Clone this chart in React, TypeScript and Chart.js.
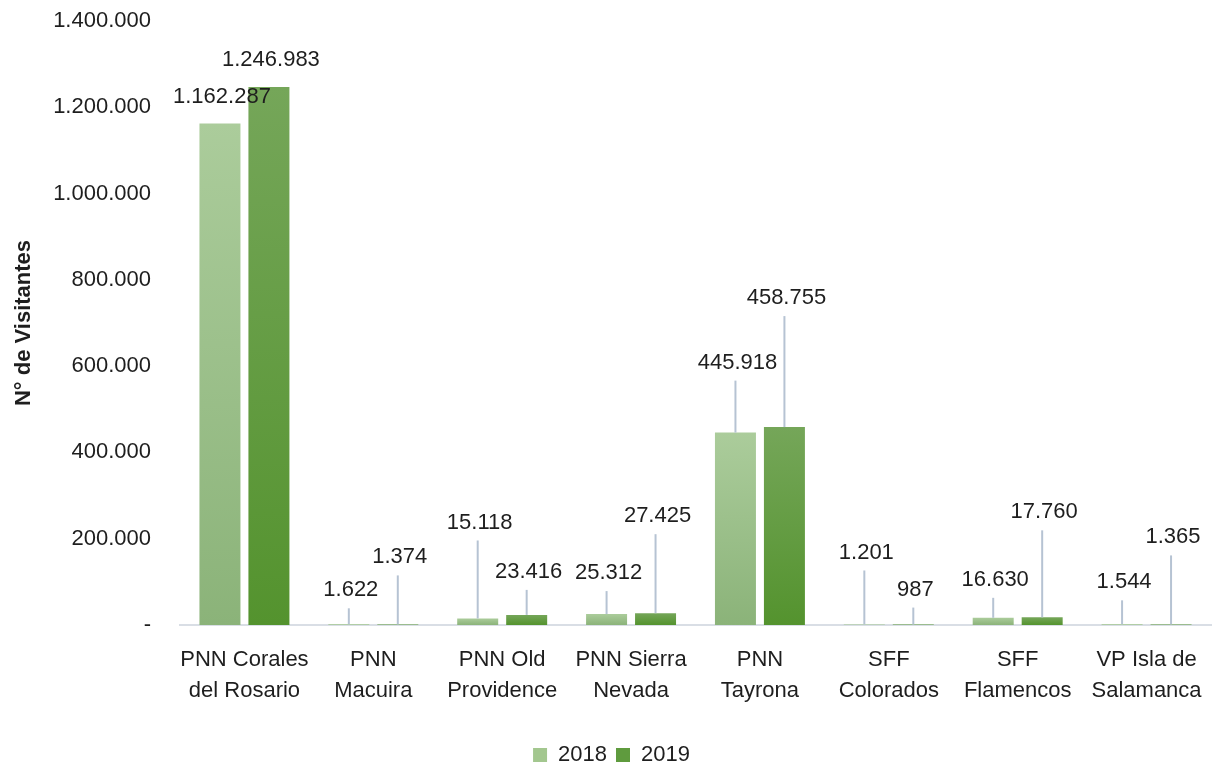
import React, { useEffect, useRef } from "react";
import { Chart, registerables } from "chart.js";

Chart.register(...registerables);

const categories: string[][] = [
  ["PNN Corales", "del Rosario"],
  ["PNN", "Macuira"],
  ["PNN Old", "Providence"],
  ["PNN Sierra", "Nevada"],
  ["PNN", "Tayrona"],
  ["SFF", "Colorados"],
  ["SFF", "Flamencos"],
  ["VP Isla de", "Salamanca"],
];

const seriesNames = ["2018", "2019"];
const values2018 = [1162287, 1622, 15118, 25312, 445918, 1201, 16630, 1544];
const values2019 = [1246983, 1374, 23416, 27425, 458755, 987, 17760, 1365];

// label placement (pixels above bar top for the label centre), as in the reference
const labelLift2018 = [27, 34, 96, 41, 70, 72, 38, 42];
const labelLift2019 = [27, 67, 43, 97, 129, 35, 105, 87];

const yMin = 0;
const yMax = 1400000;
const yStep = 200000;

const FONT = "'Liberation Sans', Arial, sans-serif";
const TEXT = "#1e1e1e";

function fmt(v: number): string {
  if (v === 0) return "-";
  return String(Math.round(v)).replace(/\B(?=(\d{3})+(?!\d))/g, ".");
}

function gradientFill(top: string, bottom: string, solid: string) {
  return (ctx: any) => {
    if (ctx.type !== "data") return solid;
    const chart = ctx.chart;
    const ys = chart.scales && chart.scales.y;
    if (!ys || !chart.chartArea) return solid;
    const t = ys.getPixelForValue(ctx.raw);
    const b = ys.getPixelForValue(0);
    if (!isFinite(t) || !isFinite(b) || b - t < 1) return solid;
    const g = chart.ctx.createLinearGradient(0, t, 0, b);
    g.addColorStop(0, top);
    g.addColorStop(1, bottom);
    return g;
  };
}

const labelPlugin = {
  id: "calloutLabels",
  afterLayout(chart: any) {
    if (chart.legend) {
      chart.legend.left += 6;
      chart.legend.right += 6;
    }
  },
  afterDatasetsDraw(chart: any) {
    const ctx = chart.ctx;
    const lifts = [labelLift2018, labelLift2019];
    ctx.save();
    chart.data.datasets.forEach((ds: any, i: number) => {
      const meta = chart.getDatasetMeta(i);
      meta.data.forEach((bar: any, j: number) => {
        const lift = lifts[i][j];
        const ly = bar.y - lift;
        const lx = bar.x + 2;
        if (lift > 30) {
          ctx.beginPath();
          ctx.strokeStyle = "#b6c3d3";
          ctx.lineWidth = 2;
          ctx.moveTo(bar.x, bar.y);
          ctx.lineTo(bar.x, ly + 18);
          ctx.stroke();
        }
        ctx.fillStyle = TEXT;
        ctx.font = `22px ${FONT}`;
        ctx.textAlign = "center";
        ctx.textBaseline = "middle";
        ctx.fillText(fmt(ds.data[j]), lx, ly);
      });
    });
    ctx.restore();
  },
};

export default function App() {
  const ref = useRef<HTMLCanvasElement | null>(null);

  useEffect(() => {
    document.body.style.margin = "0";
    if (!ref.current) return;
    const chart = new Chart(ref.current, {
      type: "bar",
      data: {
        labels: categories,
        datasets: [
          {
            label: seriesNames[0],
            data: values2018,
            backgroundColor: gradientFill("#abcc9b", "#8bb379", "#a3c891"),
            categoryPercentage: 0.76,
            barPercentage: 0.837,
          },
          {
            label: seriesNames[1],
            data: values2019,
            backgroundColor: gradientFill("#75a659", "#54932e", "#5e9b3b"),
            categoryPercentage: 0.76,
            barPercentage: 0.837,
          },
        ],
      },
      options: {
        responsive: false,
        animation: false,
        layout: { autoPadding: false, padding: { top: 21, right: 1, left: 0, bottom: -6 } },
        plugins: {
          tooltip: { enabled: false },
          legend: {
            position: "bottom",
            labels: {
              font: { family: FONT, size: 22 },
              color: TEXT,
              boxWidth: 14,
              boxHeight: 14,
              padding: 9,
              generateLabels: () =>
                seriesNames.map((n, i) => ({
                  text: n,
                  fillStyle: i === 0 ? "#a3c78f" : "#5f9b3e",
                  strokeStyle: "rgba(0,0,0,0)",
                  lineWidth: 0,
                  datasetIndex: i,
                  fontColor: TEXT,
                })),
            },
          },
        },
        scales: {
          x: {
            grid: { display: false, drawTicks: false },
            border: { display: true, color: "#d9dee5", width: 2 },
            ticks: {
              font: { family: FONT, size: 22, lineHeight: 1.41 },
              color: TEXT,
              padding: 19,
              maxRotation: 0,
              autoSkip: false,
            },
            afterFit: (s: any) => {
              s.height = 110;
              s.paddingTop = 0;
              s.paddingBottom = 0;
              s.paddingLeft = 0;
              s.paddingRight = 0;
            },
          },
          y: {
            min: yMin,
            max: yMax,
            grid: { display: false, drawTicks: false },
            border: { display: false },
            ticks: {
              stepSize: yStep,
              font: { family: FONT, size: 22 },
              color: TEXT,
              padding: 29,
              callback: (v: any) => fmt(Number(v)),
            },
            title: {
              display: true,
              text: "N° de Visitantes",
              font: { family: FONT, size: 22, weight: "bold" },
              color: TEXT,
              padding: { top: 11, bottom: 0 },
            },
            afterFit: (s: any) => {
              s.width = 180;
              s.paddingTop = 0;
              s.paddingBottom = 0;
            },
          },
        },
      },
      plugins: [labelPlugin],
    });
    return () => chart.destroy();
  }, []);

  return (
    <div style={{ width: 1212, height: 770 }}>
      <canvas ref={ref} width={1212} height={770} style={{ display: "block" }} />
    </div>
  );
}
